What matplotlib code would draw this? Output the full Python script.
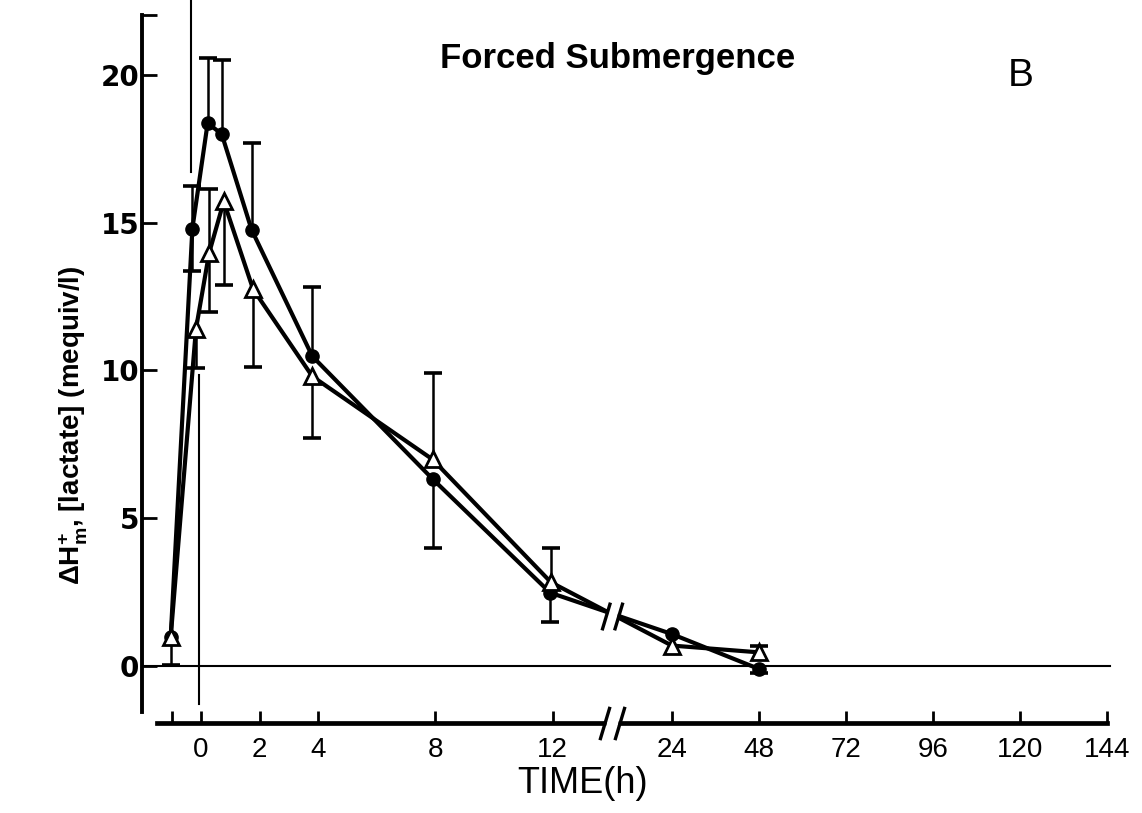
import numpy as np
import matplotlib.pyplot as plt
from matplotlib.path import Path

plt.rcParams['font.family'] = ['Liberation Sans', 'DejaVu Sans']
plt.rcParams['mathtext.default'] = 'regular'

# filled circles: time (h), value and one-sided error lengths
t_circ = [-1.03, -0.29, 0.23, 0.71, 1.73, 3.80, 7.90, 11.91, 24, 48]
v_circ = [0.97, 14.80, 18.37, 18.00, 14.76, 10.48, 6.33, 2.48, 1.08, -0.10]
up_circ = [0, 1.45, 2.20, 2.50, 2.95, 2.35, 0, 0, 0, 0]
dn_circ = [0, 1.45, 0, 0, 0, 0, 2.33, 1.00, 0, 0.15]

# open triangles
t_tri = [-1.03, -0.17, 0.28, 0.78, 1.78, 3.80, 7.90, 11.94, 24, 48]
v_tri = [0.97, 11.39, 13.97, 15.72, 12.75, 9.80, 6.99, 2.83, 0.69, 0.46]
up_tri = [0, 0, 2.18, 0, 0, 0, 2.93, 1.16, 0, 0.20]
dn_tri = [0.95, 1.30, 2.00, 2.84, 2.65, 2.10, 0, 0, 0, 0]

x_ticks = [-1, 0, 2, 4, 8, 12, 24, 48, 72, 96, 120, 144]
x_labels = ['', '0', '2', '4', '8', '12', '24', '48', '72', '96', '120', '144']
y_ticks = [0, 5, 10, 15, 20]

# broken time axis: linear to 12 h, a gap up to 24 h, then compressed days
GAP = 4.06
DAY = 2.968


def fwd(t):
    t = np.asarray(t, dtype=float)
    return np.where(t <= 12, t,
                    np.where(t <= 24, 12 + (t - 12) * GAP / 12,
                             12 + GAP + (t - 24) * DAY / 24))


def inv(u):
    u = np.asarray(u, dtype=float)
    return np.where(u <= 12, u,
                    np.where(u <= 12 + GAP, 12 + (u - 12) * 12 / GAP,
                             24 + (u - 12 - GAP) * 24 / DAY))


fig = plt.figure(figsize=(11.42, 8.13), dpi=100)
ax = fig.add_axes([0.1243, 0.1111, 0.8494, 0.8705])
ax.set_xscale('function', functions=(fwd, inv))
ax.set_xlim(-2.01, 145.4)
ax.set_ylim(-1.92, 22.03)


def draw_errors(t, v, up, dn):
    t, v, up, dn = map(np.asarray, (t, v, up, dn))
    for err, sign in ((up, 1), (dn, -1)):
        m = err > 0
        ends = v[m] + sign * err[m]
        ax.vlines(t[m], v[m], ends, color='black', lw=1.8, zorder=2)
        ax.plot(t[m], ends, ls='none', marker='_', ms=13, mew=2.6,
                color='black', zorder=2)


draw_errors(t_circ, v_circ, up_circ, dn_circ)
draw_errors(t_tri, v_tri, up_tri, dn_tri)

ax.plot(t_circ, v_circ, color='black', lw=3.0, marker='o', ms=9.5,
        mfc='black', mec='black', zorder=4)
ax.plot(t_tri, v_tri, color='black', lw=3.0, marker='^', ms=11,
        mfc='white', mec='black', mew=2.0, zorder=5)

# zero line and the vertical line at t = 0
ax.axhline(0, xmax=0.998, color='black', lw=1.5, zorder=1)
ax.plot([-0.34, -0.34], [22.6, 16.7], color='black', lw=1.5, clip_on=False)
ax.plot([-0.08, -0.08], [9.85, -1.3], color='black', lw=1.5, clip_on=False)

# break marks "//" on the curves and on the time axis
slash = Path([(-0.75, -1), (-0.15, 1), (0.15, -1), (0.75, 1)],
             [Path.MOVETO, Path.LINETO, Path.MOVETO, Path.LINETO])
gap = Path([(-0.55, -1), (0.15, -1), (0.55, 1), (-0.15, 1), (-0.55, -1)],
           [Path.MOVETO, Path.LINETO, Path.LINETO, Path.LINETO, Path.CLOSEPOLY])
for yb, ms in ((1.7, 20), (-1.92, 24)):
    ax.plot([18], [yb], marker=gap, ms=ms, mfc='white', mec='none',
            ls='none', clip_on=False, zorder=6)
    ax.plot([18], [yb], marker=slash, ms=ms, mec='black', mew=2.4,
            ls='none', clip_on=False, zorder=7)

for side in ('top', 'right'):
    ax.spines[side].set_visible(False)
ax.spines['left'].set_linewidth(2.8)
ax.spines['bottom'].set_linewidth(3.4)
ax.spines['left'].set_bounds(-1.56, 22.03)
ax.spines['bottom'].set_bounds(-1.5, 144)

ax.set_yticks(y_ticks)
ax.set_yticks([22.03], minor=True)
ax.set_yticklabels([str(v) for v in y_ticks], fontfamily='DejaVu Sans',
                   fontweight='bold', fontsize=20)
ax.tick_params(axis='y', which='both', direction='in', length=11, width=2,
               pad=2)
ax.set_xticks(x_ticks)
ax.set_xticks([], minor=True)
ax.set_xticklabels(x_labels, fontsize=20)
ax.tick_params(axis='x', direction='in', length=9, width=2, pad=10)

fig.text(0.5105, 0.036, 'TIME(h)', ha='center', va='center', fontsize=26)
fig.text(0.064, 0.477, r'$\Delta$H$^{+}_{m}$, [lactate] (mequiv/l)',
         rotation=90, ha='center', va='center', fontsize=20,
         fontweight='bold')

fig.text(0.541, 0.928, 'Forced Submergence', ha='center', va='center',
         fontsize=25, fontweight='bold')
fig.text(0.894, 0.906, 'B', ha='center', va='center', fontsize=28)

fig.savefig('out.png', dpi=100)
